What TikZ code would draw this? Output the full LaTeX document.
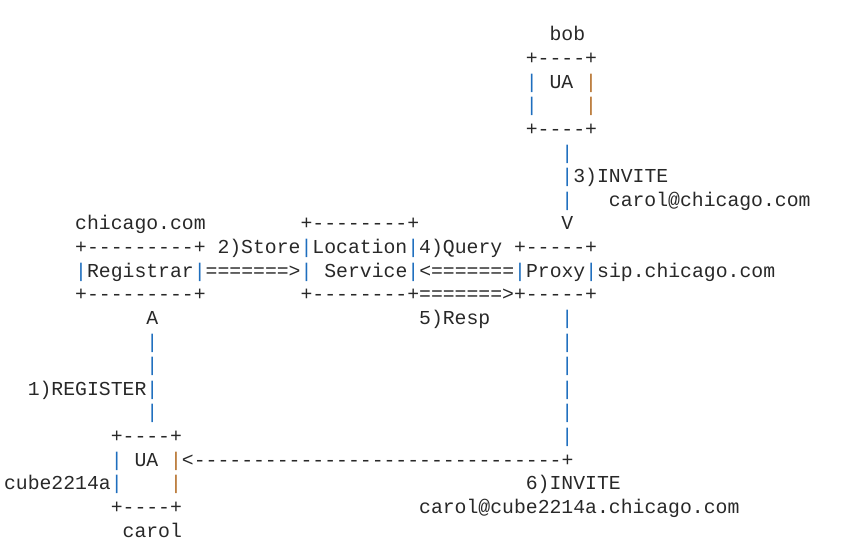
\documentclass[tikz,border=0pt]{standalone}
\usepackage{fontspec}
\newfontfamily\asciifont{Liberation Mono}
\definecolor{ink}{RGB}{40,40,40}
\definecolor{barblue}{RGB}{30,110,190}
\definecolor{barorange}{RGB}{180,110,40}
\newcommand\vb{\textcolor{barblue}{|}}
\newcommand\vo{\textcolor{barorange}{|}}

\begin{document}
\begin{tikzpicture}[x=11.86pt,y=-23.62pt,
    txt/.style={anchor=base west,inner sep=0pt,text=ink,
      font=\asciifont\fontsize{19.77pt}{23pt}\selectfont}]

      \useasboundingbox (-6.324,-1.736) rectangle (65.767,21.888);

      % bob の UA
      \node[txt] (bob) at (40,0) {bob};
      \node[txt] (bobtop) at (38,1) {+----+};
      \node[txt] (bobua) at (38,2) {\vb{} UA \vo{}};
      \node[txt] (bobl) at (38,3) {\vb{}};
      \node[txt] (bobr) at (43,3) {\vo{}};
      \node[txt] (bobbot) at (38,4) {+----+};

      % 3) INVITE
      \node[txt] (inv3a) at (41,5) {\vb{}};
      \node[txt] (inv3b) at (41,6) {\vb{}3)INVITE};
      \node[txt] (inv3c) at (41,7) {\vb{}};
      \node[txt] (inv3to) at (45,7) {carol@chicago.com};

      % Registrar / Location Service / Proxy
      \node[txt] (domain) at (0,8) {chicago.com};
      \node[txt] (loctop) at (19,8) {+--------+};
      \node[txt] (inv3v) at (41,8) {V};
      \node[txt] (regtop) at (0,9) {+---------+};
      \node[txt] (store) at (12,9) {2)Store\vb{}Location\vb{}4)Query};
      \node[txt] (proxytop) at (37,9) {+-----+};
      \node[txt] (mid) at (0,10)
        {\vb{}Registrar\vb{}=======>\vb{} Service\vb{}<=======\vb{}Proxy\vb{}sip.chicago.com};
      \node[txt] (regbot) at (0,11) {+---------+};
      \node[txt] (locbot) at (19,11) {+--------+=======>+-----+};

      % 1) REGISTER と 5) Resp
      \node[txt] (regA) at (6,12) {A};
      \node[txt] (resp) at (29,12) {5)Resp};
      \foreach \r in {12,...,17} \node[txt] (pr\r) at (41,\r) {\vb{}};
      \foreach \r in {13,14,16} \node[txt] (rg\r) at (6,\r) {\vb{}};
      \node[txt] (register) at (-4,15) {1)REGISTER\vb{}};

      % carol の UA
      \node[txt] (caroltop) at (3,17) {+----+};
      \node[txt] (carolua) at (3,18) {\vb{} UA \vo{}<-------------------------------+};
      \node[txt] (host) at (-6,19) {cube2214a\vb{}};
      \node[txt] (carolr) at (8,19) {\vo{}};
      \node[txt] (inv6) at (38,19) {6)INVITE};
      \node[txt] (carolbot) at (3,20) {+----+};
      \node[txt] (inv6to) at (29,20) {carol@cube2214a.chicago.com};
      \node[txt] (carol) at (4,21) {carol};

\end{tikzpicture}
\end{document}
